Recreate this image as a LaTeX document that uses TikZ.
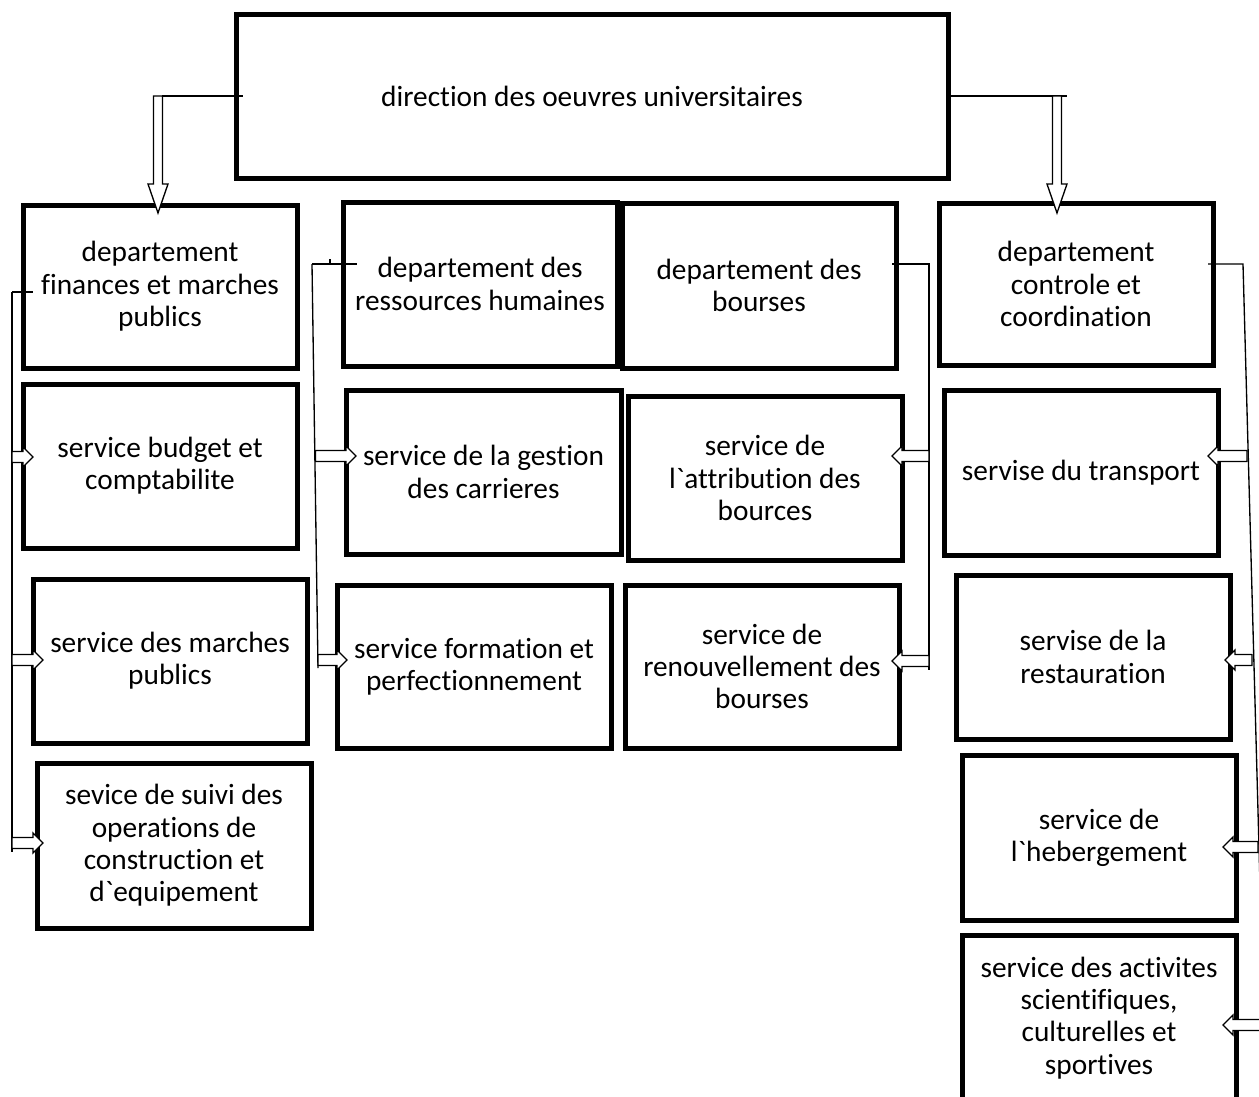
\documentclass[tikz,border=0pt]{standalone}
\usepackage{fontspec}
\setmainfont{Carlito}[Ligatures={NoCommon}]
\usetikzlibrary{calc}
\newcommand\bx[6]{\node[box, minimum width={(#4-#2)*0.6pt}, minimum height={(#5-#3)*0.6pt}] (#1) at ({(#2+#4)/2},{(#3+#5)/2}) {#6};}
\newcommand\bigdown[3]{\draw[barrow] ({#1-4.5},#2) -- ({#1-4.5},{#3-29}) -- ({#1-10},{#3-29}) -- (#1,#3) -- ({#1+10},{#3-29}) -- ({#1+4.5},{#3-29}) -- ({#1+4.5},#2) -- cycle;}
\newcommand\rarr[3]{\draw[barrow] (#1,{#3-5.5}) -- ({#2-10},{#3-5.5}) -- ({#2-10},{#3-10}) -- (#2,#3) -- ({#2-10},{#3+10}) -- ({#2-10},{#3+5.5}) -- (#1,{#3+5.5}) -- cycle;}
\newcommand\larr[3]{\draw[barrow] (#1,{#3-5.5}) -- ({#2+10},{#3-5.5}) -- ({#2+10},{#3-10}) -- (#2,#3) -- ({#2+10},{#3+10}) -- ({#2+10},{#3+5.5}) -- (#1,{#3+5.5}) -- cycle;}
\newcommand\bq{\textasciigrave}
\begin{document}
\begin{tikzpicture}[x=0.6pt,y=-0.6pt,
 box/.style={draw, line width=3pt, align=center, inner sep=0pt, fill=white,
   font=\fontsize{17.6}{19.4}\selectfont},
 conn/.style={line width=0.8pt},
 barrow/.style={draw, line width=0.8pt, fill=white, line join=miter}]
\clip (0,0) rectangle (1259,1097);
% boxes
\bx{top}{236}{14}{948}{178}{direction des oeuvres universitaires}
\bx{dfin}{23}{205}{297}{368}{departement\\finances et marches\\publics}
\bx{drh}{343}{202}{617}{366}{departement des\\ressources humaines}
\bx{dbo}{622}{203}{896}{368}{departement des\\bourses}
\bx{dco}{939}{203}{1213}{365}{departement\\controle et\\coordination}
\bx{sbud}{23}{384}{297}{548}{service budget et\\comptabilite}
\bx{smar}{33}{579}{307}{743}{service des marches\\publics}
\bx{ssui}{37}{763}{311}{928}{sevice de suivi des\\operations de\\construction et\\d\bq equipement}
\bx{sges}{346}{390}{621}{554}{service de la gestion\\des carrieres}
\bx{sfor}{337}{585}{611}{748}{service formation et\\perfectionnement}
\bx{satt}{628}{396}{902}{560}{service de\\l\bq attribution des\\bources}
\bx{sren}{625}{585}{899}{748}{service de\\renouvellement des\\bourses}
\bx{stra}{944}{390}{1218}{555}{servise du transport}
\bx{sres}{956}{575}{1230}{739}{servise de la\\restauration}
\bx{sheb}{962}{755}{1236}{920}{service de\\l\bq hebergement}
\bx{sact}{962}{935}{1236}{1101}{service des activites\\scientifiques,\\culturelles et\\sportives}
% top connectors
\coordinate (tl) at (top.west |- 0,96);
\coordinate (tr) at (top.east |- 0,96);
\draw[conn] ($(tl)+(9,0)$) -- (162,96);
\bigdown{158}{96}{213}
\draw[conn] (tr) -- (1067,96);
\bigdown{1057}{96}{213}
% left bus
\coordinate (lb1) at (12,292);
\coordinate (lb2) at (12,852);
\draw[conn] (lb1) -- (lb2);
\draw[conn] (lb1) -- (33,292);
\rarr{12}{33}{457}
\rarr{12}{43}{660}
\rarr{12}{43}{843}
% RH bus
\coordinate (rb1) at (312,264);
\coordinate (rb2) at (318,668);
\draw[conn] (rb1) -- (rb2);
\draw[conn] (rb1) -- (357,264);
\draw[conn] (330,264) -- (330,259);
\rarr{315.5}{356}{456}
\rarr{318}{347}{660}
% bourses bus
\coordinate (bb1) at (929,264);
\coordinate (bb2) at (929,670);
\draw[conn] (892,264) -- (bb1) -- (bb2);
\larr{929}{892}{456}
\larr{929}{892}{661}
% controle bus
\coordinate (cb1) at (1243,264);
\coordinate (cb2) at (1264,1030);
\draw[conn] (1208,264) -- (cb1) -- (cb2);
\larr{1247}{1208}{456}
\larr{1252}{1225}{660}
\larr{1258}{1223}{847}
\larr{1262}{1223}{1025}
\end{tikzpicture}
\end{document}
